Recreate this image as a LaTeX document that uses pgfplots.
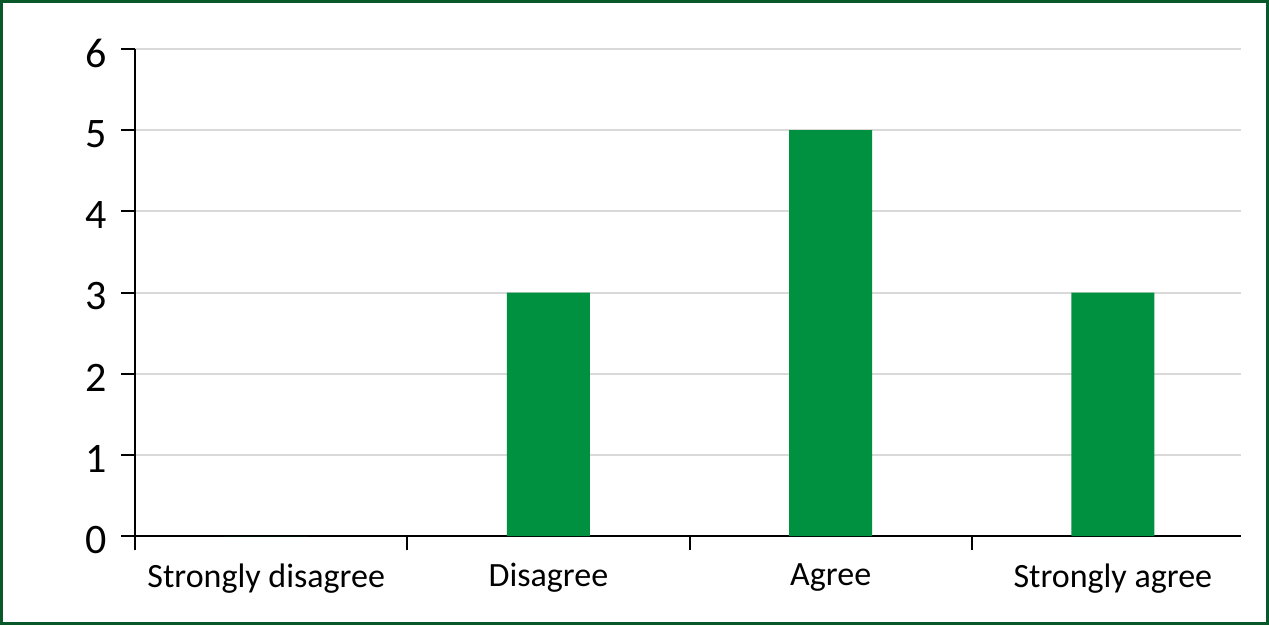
\documentclass[border=0pt]{standalone}
\usepackage{pgfplots}
\pgfplotsset{compat=1.18}
\usepackage{fontspec}
\setmainfont{Carlito}
\definecolor{bargreen}{RGB}{0,145,64}
\definecolor{framegreen}{RGB}{8,88,42}
\definecolor{gridgray}{RGB}{217,217,217}
\begin{document}
\begin{tikzpicture}[x=1pt,y=1pt]
  % outer frame
  \draw[framegreen, line width=3pt] (1.5,1.5) rectangle (1267.5,623.5);
  \begin{axis}[
    at={(135pt,89pt)},
    anchor=south west,
    scale only axis,
    width=1106pt,
    height=487pt,
    font=\fontsize{34}{38}\selectfont,
    ymin=0, ymax=6,
    ytick={0,1,2,3,4,5,6},
    xmin=-0.465, xmax=3.454,
    xtick={-0.465,0.5,1.5,2.5},
    xticklabels={},
    extra x ticks={0,1,2,3},
    extra x tick labels={Strongly disagree,Disagree,Agree,Strongly agree},
    extra x tick style={major tick length=0pt},
    axis x line*=bottom,
    axis y line*=left,
    axis line style={line width=2pt, black},
    tick style={line width=2pt, black},
    major tick length=14pt,
    tick align=outside,
    ymajorgrids,
    grid style={gridgray, line width=2pt},
    /pgf/number format/assume math mode=true,
    yticklabel style={xshift=-11pt, yshift=-4pt, font=\fontsize{42}{44}\selectfont},
    xticklabel style={yshift=-24pt},
    ybar,
    bar width=0.294,
  ]
    \addplot[fill=bargreen, draw=none] coordinates {
      (0,0) (1,3) (2,5) (3,3)
    };
  \end{axis}
\end{tikzpicture}
\end{document}
